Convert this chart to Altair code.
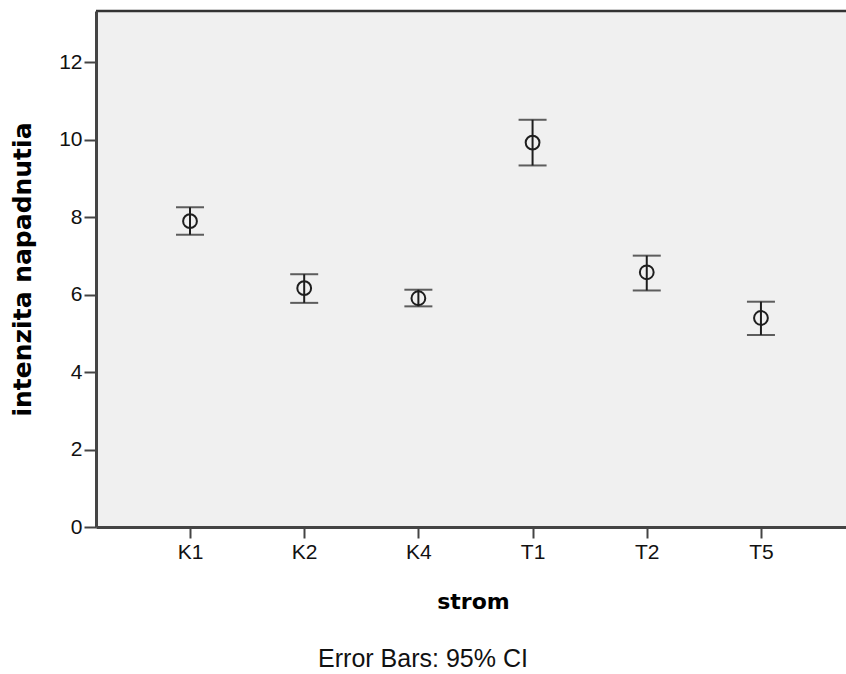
import altair as alt
import pandas as pd

categories = ["K1", "K2", "K4", "T1", "T2", "T5"]
means = [7.90, 6.17, 5.91, 9.93, 6.58, 5.40]
lower = [7.55, 5.79, 5.70, 9.34, 6.11, 4.96]
upper = [8.26, 6.53, 6.13, 10.52, 7.01, 5.82]
y_ticks = [0, 2, 4, 6, 8, 10, 12]
caption = "Error Bars: 95% CI"

df = pd.DataFrame({"strom": categories, "mean": means, "lo": lower, "hi": upper})

W, H = 750, 516
INK = "#1e1e1e"
AXC = "#444444"

x_enc = alt.X(
    "strom:N",
    sort=categories,
    scale=alt.Scale(type="point", padding=0.784, align=0.525),
    axis=alt.Axis(
        title="strom", labelAngle=0, labelFont="Liberation Sans", labelFontSize=21,
        labelColor="#111", labelPadding=3, tickSize=11, tickWidth=2, tickColor=AXC,
        domainColor=AXC, domainWidth=3, titleFont="DejaVu Sans", titleFontSize=22,
        titleFontWeight="bold", titleColor="#000", titleX=377, titleY=74,
        titleBaseline="middle", titleAlign="center", zindex=1,
    ),
)
y_scale = alt.Scale(domain=[0, 13.33], nice=False, zero=True)
y_axis = alt.Axis(
    title="intenzita napadnutia", values=y_ticks, grid=False, labelFont="Liberation Sans",
    labelFontSize=21, labelColor="#111", labelPadding=2, tickSize=12, tickWidth=2,
    tickColor=AXC, domainColor=AXC, domainWidth=3, titleFont="DejaVu Sans",
    titleFontSize=25, titleFontWeight="bold", titleColor="#000", titleAngle=270,
    titleX=-74, titleY=258, titleAlign="center", titleBaseline="middle", zindex=1,
)

base = alt.Chart(df)

bg = alt.Chart(pd.DataFrame({"a": [0]})).mark_rect(color="#f0f0f0").encode(
    x=alt.value(0), x2=alt.value(W), y=alt.value(0), y2=alt.value(H)
)
bars = base.mark_rule(color=INK, strokeWidth=2).encode(
    x=x_enc, y=alt.Y("lo:Q", scale=y_scale, axis=y_axis), y2="hi:Q"
)
cap_lo = base.mark_tick(color=INK, thickness=2, size=28).encode(
    x=x_enc, y=alt.Y("lo:Q", scale=y_scale)
)
cap_hi = base.mark_tick(color=INK, thickness=2, size=28).encode(
    x=x_enc, y=alt.Y("hi:Q", scale=y_scale)
)
pts = base.mark_point(shape="circle", filled=False, size=190, strokeWidth=2, color=INK, opacity=1).encode(
    x=x_enc, y=alt.Y("mean:Q", scale=y_scale)
)
top_border = alt.Chart(pd.DataFrame({"a": [0]})).mark_rule(color="#333", strokeWidth=2.5).encode(
    x=alt.value(0), x2=alt.value(W), y=alt.value(0)
)
cap_text = alt.Chart(pd.DataFrame({"t": [caption]})).mark_text(
    font="Liberation Sans", fontSize=25, color="#111", align="center", baseline="middle"
).encode(text="t:N", x=alt.value(327), y=alt.value(648))

chart = alt.layer(bg, bars, cap_lo, cap_hi, pts, top_border, cap_text).properties(
    width=W, height=H,
    autosize=alt.AutoSizeParams(type="none"),
    padding={"left": 96, "top": 11, "right": 0, "bottom": 147},
).configure_view(stroke=None).configure(background="white")

chart.save("out.html", embed_options={"renderer": "svg", "actions": False})
